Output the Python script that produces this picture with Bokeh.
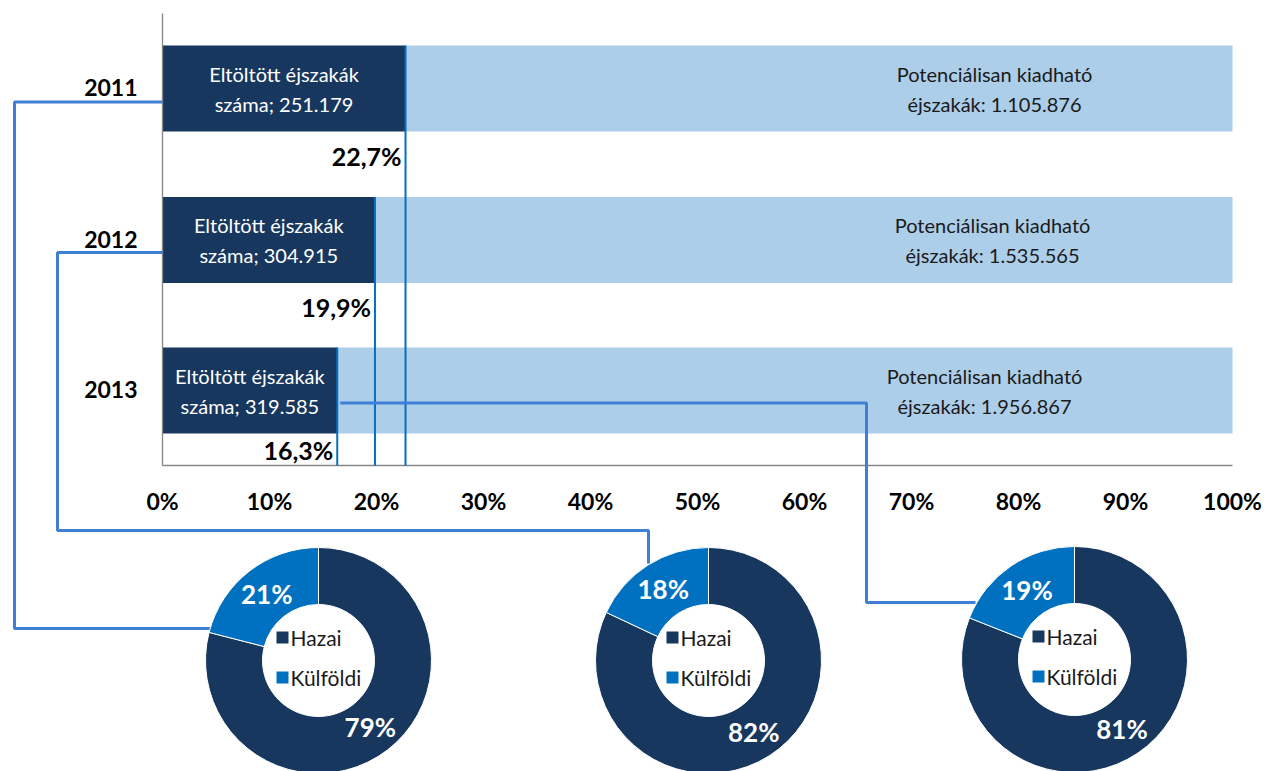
import math
from bokeh.plotting import figure
from bokeh.models import Range1d
from bokeh.core.properties import value
from bokeh.embed import file_html
from bokeh.resources import INLINE

# ---------------- data ----------------
years = ["2011", "2012", "2013"]
eltoltott = [251179, 304915, 319585]          # spent nights
potencialis = [1105876, 1535565, 1956867]     # potentially rentable nights
hazai = [79, 82, 81]                          # domestic share, %
kulfoldi = [21, 18, 19]                       # foreign share, %
x_ticks = [0, 10, 20, 30, 40, 50, 60, 70, 80, 90, 100]
tick_labels = [f"{t}%" for t in x_ticks]
legend_names = ["Hazai", "Külföldi"]

# ---------------- layout / style ----------------
W, H = 1265, 771
X0 = 162.0          # pixel of 0 %
S = 10.7            # pixels per percent
FONT = value("Lato")
NAVY = "#17375E"
BLUE = "#0070C0"
LIGHT = "#ADCEE9"
CONN = "#3F7FD6"
GRAY = "#868686"
TXT = "#1A1A1A"

def Y(py):
    return H - py

def X(px):
    return (px - X0) / S

bar_cy = [88, 239.5, 390]
bar_h = 86
pct_label_off = [24, 24, 16]
right_label_px = [994, 992, 984]
plot_top, plot_bottom = 13, 465
donut_c = [(318, 660), (708, 660), (1074, 659)]
R_OUT, R_IN = 113, 56

share = [e / p * 100 for e, p in zip(eltoltott, potencialis)]

def fmt_int(v):
    return f"{v:,}".replace(",", ".")

p = figure(width=W, height=H, x_range=Range1d(X(0), X(W)), y_range=Range1d(0, H),
           output_backend="svg", toolbar_location=None, min_border=0,
           x_axis_location=None, y_axis_location=None)
p.grid.visible = False
p.outline_line_color = None
p.background_fill_color = "white"
p.border_fill_color = "white"

ys = [Y(c) for c in bar_cy]

# bars
p.hbar(y=ys, left=share, right=[100] * 3, height=bar_h, color=LIGHT, line_color=None)
p.hbar(y=ys, left=[0] * 3, right=share, height=bar_h, color=NAVY, line_color=None)

# axis lines
p.segment(x0=[0], y0=[Y(plot_top)], x1=[0], y1=[Y(plot_bottom)], line_color=GRAY, line_width=1.3)
p.segment(x0=[0], y0=[Y(plot_bottom)], x1=[100], y1=[Y(plot_bottom)], line_color=GRAY, line_width=1.3)

# vertical share markers
p.segment(x0=share, y0=[Y(c - bar_h / 2) for c in bar_cy], x1=share, y1=[Y(plot_bottom)] * 3,
          line_color=BLUE, line_width=2)

# connectors (layout decorations)
conn_xs = [[X(162), X(14), X(14), X(210)],
           [X(162), X(57), X(57), X(648), X(648)],
           [share[2] + 3 / S, X(866), X(866), X(975)]]
conn_ys = [[Y(101.5)] * 2 + [Y(628)] * 2,
           [Y(252)] * 2 + [Y(530)] * 2 + [Y(563)],
           [Y(402.5)] * 2 + [Y(602)] * 2]
p.multi_line(xs=conn_xs, ys=conn_ys, line_color=CONN, line_width=3)

# bar texts
p.text(x=[s / 2 for s in share], y=ys,
       text=[f"Eltöltött éjszakák\nszáma; {fmt_int(v)}" for v in eltoltott],
       text_color="white", text_font=FONT, text_font_size="20px",
       text_align="center", text_baseline="middle", text_line_height=1.25)
p.text(x=[X(v) for v in right_label_px], y=ys,
       text=[f"Potenciálisan kiadható\néjszakák: {fmt_int(v)}" for v in potencialis],
       text_color=TXT, text_font=FONT, text_font_size="20px",
       text_align="center", text_baseline="middle", text_line_height=1.25)
p.text(x=[s - 4 / S for s in share], y=[Y(c + bar_h / 2 + o) for c, o in zip(bar_cy, pct_label_off)],
       text=[f"{s:.1f}%".replace(".", ",") for s in share],
       text_color="black", text_font=FONT, text_font_size="25px", text_font_style="bold",
       text_align="right", text_baseline="middle")
p.text(x=[X(137)] * 3, y=[y + 1 for y in ys], text=years,
       text_color="black", text_font=FONT, text_font_size="23px", text_font_style="bold",
       text_align="right", text_baseline="middle")
p.text(x=x_ticks, y=[Y(500)] * len(x_ticks), text=tick_labels,
       text_color="black", text_font=FONT, text_font_size="23px", text_font_style="bold",
       text_align="center", text_baseline="middle")

# donuts
for (cx, cy), h, k in zip(donut_c, hazai, kulfoldi):
    a_top = math.pi / 2
    a_h0 = a_top - 2 * math.pi * h / 100
    a_k1 = a_top + 2 * math.pi * k / 100
    p.annular_wedge(x=[X(cx)] * 2, y=[Y(cy)] * 2,
                    inner_radius=R_IN, outer_radius=R_OUT,
                    inner_radius_units="screen", outer_radius_units="screen",
                    start_angle=[a_h0, a_top], end_angle=[a_top, a_k1],
                    fill_color=[NAVY, BLUE], line_color="white", line_width=1)
    rm = (R_IN + R_OUT) / 2
    mids = [(a_h0 + a_top) / 2, (a_top + a_k1) / 2]
    p.text(x=[X(cx + rm * math.cos(a)) for a in mids],
           y=[Y(cy) + rm * math.sin(a) for a in mids],
           text=[f"{h}%", f"{k}%"], text_color="white", text_font=FONT,
           text_font_size="26px", text_font_style="bold",
           text_align="center", text_baseline="middle")
    p.scatter(x=[X(cx - 36)] * 2, y=[Y(cy - 23), Y(cy + 17)], marker="square", size=12,
              fill_color=[NAVY, BLUE], line_color=None)
    p.text(x=[X(cx - 28)] * 2, y=[Y(cy - 23), Y(cy + 17)], text=legend_names,
           text_color=TXT, text_font=FONT, text_font_size="21px",
           text_align="left", text_baseline="middle")

open("out.html", "w").write(file_html(p, INLINE))
